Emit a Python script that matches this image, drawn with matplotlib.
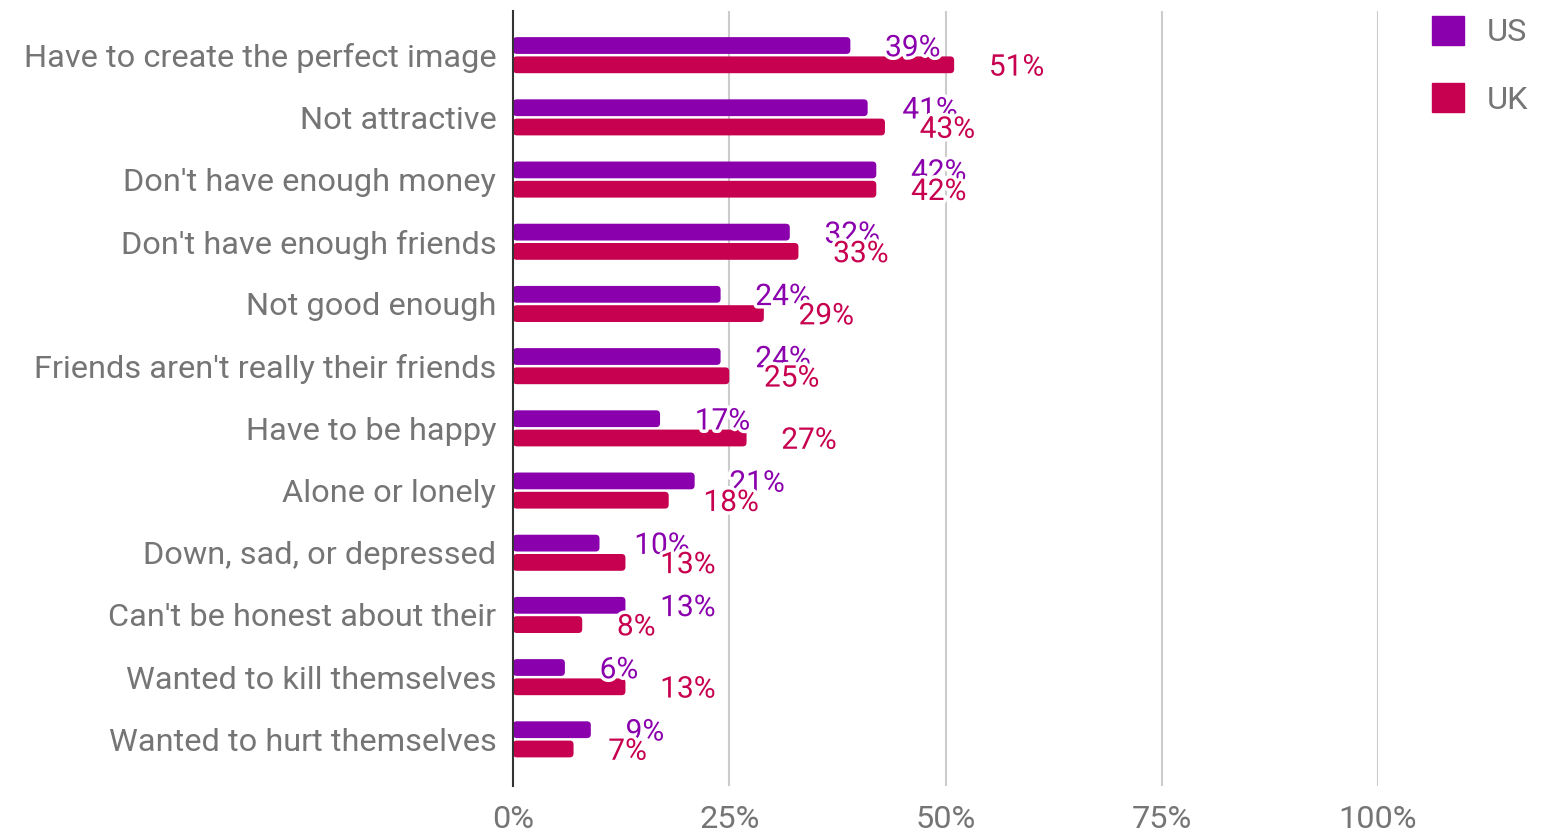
import matplotlib
matplotlib.use("Agg")
import matplotlib.pyplot as plt
import matplotlib.patheffects as peff
from matplotlib.patches import FancyBboxPatch, Patch
import numpy as np

categories = [
    "Have to create the perfect image",
    "Not attractive",
    "Don't have enough money",
    "Don't have enough friends",
    "Not good enough",
    "Friends aren't really their friends",
    "Have to be happy",
    "Alone or lonely",
    "Down, sad, or depressed",
    "Can't be honest about their",
    "Wanted to kill themselves",
    "Wanted to hurt themselves",
]
us_values = [39, 41, 42, 32, 24, 24, 17, 21, 10, 13, 6, 9]
uk_values = [51, 43, 42, 33, 29, 25, 27, 18, 13, 8, 13, 7]
x_ticks = [0, 25, 50, 75, 100]
x_ticklabels = ["0%", "25%", "50%", "75%", "100%"]

us_color = "#8a00ad"
uk_color = "#c7004f"
text_gray = "#757575"

plt.rcParams["font.family"] = ["Roboto", "DejaVu Sans"]

W, H = 1552, 835
fig = plt.figure(figsize=(W / 100, H / 100), dpi=100)
ax = fig.add_axes([513 / W, 1 - 786 / H, (1378 - 513) / W, (786 - 11) / H])

y = np.arange(len(categories))
bh = 0.27
off = 0.155

bars_us = ax.barh(y - off, us_values, height=bh, color=us_color, zorder=2)
bars_uk = ax.barh(y + off, uk_values, height=bh, color=uk_color, zorder=2)

# rounded bar ends
for bars in (bars_us, bars_uk):
    for r in bars:
        x0, y0, w, h = r.get_x(), r.get_y(), r.get_width(), r.get_height()
        fb = FancyBboxPatch((x0, y0), w, h,
                            boxstyle="round,pad=0,rounding_size=0.45",
                            mutation_aspect=0.14,
                            fc=r.get_facecolor(), ec="none", zorder=2)
        ax.add_patch(fb)
        r.set_visible(False)

# value labels, UK drawn last so they sit on top
stroke = [peff.withStroke(linewidth=5, foreground="white")]
for bars, vals, col in ((bars_us, us_values, us_color), (bars_uk, uk_values, uk_color)):
    for r, v in zip(bars, vals):
        t = ax.annotate(f"{v}%", xy=(r.get_width(), r.get_y() + r.get_height() / 2),
                        xytext=(25, -2), textcoords="offset points",
                        ha="left", va="center", fontsize=21.5, color=col, zorder=4)
        t.set_path_effects(stroke)

ax.set_xlim(0, 100)
ax.set_ylim(11.75, -0.71)
ax.set_yticks(y)
ax.set_yticklabels(categories, fontsize=23.4, color=text_gray)
ax.set_xticks(x_ticks)
ax.set_xticklabels(x_ticklabels, fontsize=23.4, color=text_gray)
ax.tick_params(axis="both", length=0)
ax.tick_params(axis="y", pad=12)
ax.tick_params(axis="x", pad=14)

for xt in x_ticks[1:]:
    ax.axvline(xt, color="#cccccc", lw=1.5, zorder=1)

for s in ["top", "right", "bottom"]:
    ax.spines[s].set_visible(False)
ax.spines["left"].set_color("#333333")
ax.spines["left"].set_linewidth(1.5)
ax.spines["left"].set_zorder(3)

handles = [Patch(color=us_color, label="US"), Patch(color=uk_color, label="UK")]
fig.legend(handles=handles, loc="upper left", bbox_to_anchor=(1432 / W, 1 - 16 / H),
           frameon=False, fontsize=23.4, labelcolor=text_gray, borderpad=0,
           borderaxespad=0, handlelength=0.98, handleheight=0.98,
           handletextpad=0.7, labelspacing=1.1)

fig.savefig("out.png", dpi=100, facecolor="white")
